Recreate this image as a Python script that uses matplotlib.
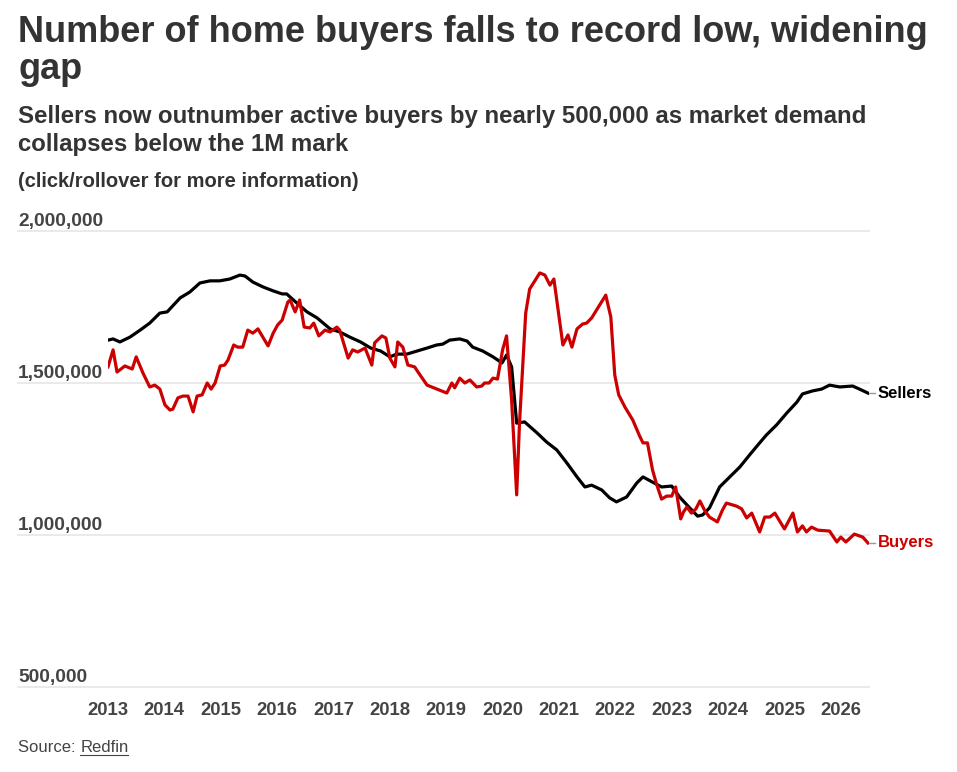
import matplotlib
matplotlib.use('Agg')
import matplotlib.pyplot as plt

# data (decimal year, count)
seller_years = [2013.00, 2013.09, 2013.21, 2013.39, 2013.57, 2013.74, 2013.92, 2014.05, 2014.28, 2014.45,
                2014.63, 2014.81, 2014.98, 2015.16, 2015.34, 2015.43, 2015.57, 2015.75, 2015.93, 2016.09,
                2016.17, 2016.35, 2016.53, 2016.71, 2016.94, 2017.11, 2017.29, 2017.48, 2017.66, 2017.84,
                2018.00, 2018.12, 2018.30, 2018.48, 2018.66, 2018.83, 2018.94, 2019.06, 2019.24, 2019.37,
                2019.47, 2019.65, 2019.83, 2019.99, 2020.07, 2020.16, 2020.25, 2020.39, 2020.61, 2020.78,
                2020.96, 2021.14, 2021.32, 2021.46, 2021.58, 2021.76, 2021.90, 2022.02, 2022.20, 2022.38,
                2022.49, 2022.66, 2022.82, 2023.00, 2023.14, 2023.32, 2023.46, 2023.55, 2023.67, 2023.85,
                2024.03, 2024.21, 2024.38, 2024.56, 2024.68, 2024.86, 2025.04, 2025.22, 2025.32, 2025.50,
                2025.66, 2025.80, 2025.98, 2026.21, 2026.33, 2026.48]
sellers = [1641000, 1645000, 1635000, 1651000, 1674000, 1697000, 1730000, 1734000, 1780000, 1799000,
           1829000, 1836000, 1836000, 1842000, 1855000, 1852000, 1832000, 1816000, 1803000, 1793000,
           1793000, 1763000, 1734000, 1714000, 1678000, 1668000, 1651000, 1635000, 1615000, 1605000,
           1586000, 1595000, 1595000, 1605000, 1615000, 1625000, 1628000, 1641000, 1645000, 1638000,
           1618000, 1605000, 1586000, 1566000, 1592000, 1553000, 1368000, 1372000, 1336000, 1306000,
           1280000, 1237000, 1191000, 1158000, 1164000, 1148000, 1122000, 1109000, 1125000, 1171000,
           1191000, 1174000, 1158000, 1161000, 1125000, 1089000, 1062000, 1066000, 1089000, 1158000,
           1191000, 1224000, 1263000, 1303000, 1329000, 1362000, 1401000, 1437000, 1464000, 1474000,
           1480000, 1493000, 1487000, 1490000, 1480000, 1467000]

buyer_years = [2013.00, 2013.09, 2013.16, 2013.30, 2013.43, 2013.50, 2013.62, 2013.74, 2013.83, 2013.92,
               2014.01, 2014.10, 2014.15, 2014.24, 2014.33, 2014.42, 2014.51, 2014.58, 2014.67, 2014.76,
               2014.83, 2014.90, 2014.99, 2015.07, 2015.13, 2015.23, 2015.30, 2015.39, 2015.48, 2015.57,
               2015.66, 2015.84, 2015.93, 2016.01, 2016.09, 2016.19, 2016.23, 2016.32, 2016.40, 2016.48,
               2016.58, 2016.65, 2016.74, 2016.85, 2016.94, 2017.06, 2017.11, 2017.26, 2017.34, 2017.43,
               2017.56, 2017.68, 2017.73, 2017.86, 2017.93, 2018.00, 2018.09, 2018.14, 2018.23, 2018.32,
               2018.44, 2018.50, 2018.66, 2018.74, 2018.83, 2019.01, 2019.10, 2019.15, 2019.24, 2019.33,
               2019.42, 2019.54, 2019.63, 2019.68, 2019.76, 2019.83, 2019.91, 2020.00, 2020.07, 2020.16,
               2020.25, 2020.30, 2020.41, 2020.48, 2020.66, 2020.75, 2020.84, 2020.91, 2021.07, 2021.16,
               2021.23, 2021.32, 2021.42, 2021.49, 2021.58, 2021.83, 2021.92, 2021.99, 2022.06, 2022.17,
               2022.31, 2022.43, 2022.49, 2022.57, 2022.66, 2022.73, 2022.82, 2022.91, 2023.00, 2023.07,
               2023.16, 2023.21, 2023.27, 2023.35, 2023.43, 2023.50, 2023.59, 2023.67, 2023.81, 2023.90,
               2023.97, 2024.15, 2024.24, 2024.33, 2024.42, 2024.56, 2024.65, 2024.74, 2024.83, 2025.00,
               2025.15, 2025.23, 2025.32, 2025.39, 2025.48, 2025.59, 2025.80, 2025.93, 2026.00, 2026.09,
               2026.24, 2026.39, 2026.48]
buyers = [1553000, 1609000, 1536000, 1556000, 1546000, 1586000, 1533000, 1487000, 1493000, 1480000,
          1428000, 1411000, 1414000, 1451000, 1457000, 1457000, 1405000, 1457000, 1461000, 1500000,
          1480000, 1500000, 1556000, 1559000, 1576000, 1625000, 1618000, 1618000, 1674000, 1664000,
          1678000, 1622000, 1664000, 1691000, 1707000, 1766000, 1773000, 1734000, 1773000, 1684000,
          1681000, 1697000, 1655000, 1674000, 1668000, 1684000, 1674000, 1582000, 1609000, 1602000,
          1615000, 1559000, 1632000, 1655000, 1648000, 1582000, 1553000, 1635000, 1618000, 1559000,
          1553000, 1536000, 1493000, 1487000, 1480000, 1467000, 1500000, 1484000, 1516000, 1500000,
          1510000, 1487000, 1490000, 1500000, 1500000, 1516000, 1513000, 1609000, 1655000, 1444000,
          1132000, 1368000, 1730000, 1809000, 1862000, 1855000, 1822000, 1842000, 1625000, 1658000,
          1618000, 1678000, 1694000, 1697000, 1714000, 1789000, 1717000, 1526000, 1461000, 1421000,
          1378000, 1326000, 1303000, 1303000, 1214000, 1168000, 1118000, 1128000, 1128000, 1158000,
          1053000, 1076000, 1092000, 1072000, 1086000, 1112000, 1079000, 1059000, 1043000, 1082000,
          1105000, 1095000, 1086000, 1056000, 1072000, 1010000, 1059000, 1059000, 1072000, 1020000,
          1072000, 1010000, 1030000, 1010000, 1026000, 1016000, 1013000, 977000, 993000, 977000,
          1003000, 993000, 974000]

year_ticks = list(range(2013, 2027))
y_ticks = [500000, 1000000, 1500000, 2000000]
y_tick_labels = ["500,000", "1,000,000", "1,500,000", "2,000,000"]

W, H = 957, 772
RED = "#cc0000"
TXT = "#333333"
GREY = "#444444"

plt.rcParams['font.family'] = ['Liberation Sans', 'DejaVu Sans']

fig = plt.figure(figsize=(W / 100, H / 100), dpi=100)
ax = fig.add_axes([108 / W, 1 - 687 / H, (869 - 108) / W, (687 - 231) / H])


def fy(py):
    # pixel row (from top) -> figure fraction
    return 1 - py / H


# header text
fig.text(18 / W, fy(42), "Number of home buyers falls to record low, widening",
         fontsize=26, fontweight='bold', color=TXT, va='baseline')
fig.text(18 / W, fy(79), "gap", fontsize=26, fontweight='bold', color=TXT, va='baseline')
fig.text(18 / W, fy(123), "Sellers now outnumber active buyers by nearly 500,000 as market demand",
         fontsize=17.3, fontweight='bold', color=TXT, va='baseline')
fig.text(18 / W, fy(151), "collapses below the 1M mark",
         fontsize=17.3, fontweight='bold', color=TXT, va='baseline')
fig.text(18 / W, fy(187), "(click/rollover for more information)",
         fontsize=14.5, fontweight='bold', color=TXT, va='baseline')

ax.plot(seller_years, sellers, color="black", lw=2.3, solid_joinstyle='round', zorder=3)
ax.plot(buyer_years, buyers, color=RED, lw=2.3, solid_joinstyle='round', zorder=4)

ax.set_xlim(2013, 2026.5)
ax.set_ylim(500000, 2000000)
for s in ax.spines.values():
    s.set_visible(False)
ax.set_yticks([])
ax.set_xticks(year_ticks)
ax.set_xticklabels([str(y) for y in year_ticks], fontsize=13.3, fontweight='bold', color=GREY)
ax.tick_params(axis='x', length=0, pad=11)

# gridlines run out under the y labels, labels sit on top of each line
left_ext = -(108 - 18) / (869 - 108)
for v, lab in zip(y_ticks, y_tick_labels):
    ax.plot([left_ext, 1], [v, v], transform=ax.get_yaxis_transform(), color="#e8e8e8",
            lw=1.3, clip_on=False, zorder=1)
    ax.text(left_ext, v + 18000, lab, transform=ax.get_yaxis_transform(), fontsize=13.8,
            fontweight='bold', color=GREY, va='baseline', ha='left')

# end labels with short connector ticks
ax.plot([seller_years[-1], 2026.6], [sellers[-1], sellers[-1]], color="#999999",
        lw=1, clip_on=False)
ax.plot([buyer_years[-1], 2026.6], [buyers[-1], buyers[-1]], color="#999999", lw=1, clip_on=False)
ax.text(2026.65, sellers[-1], "Sellers", fontsize=12, fontweight='bold', color="black",
        va='center', ha='left', clip_on=False)
ax.text(2026.65, buyers[-1], "Buyers", fontsize=12, fontweight='bold', color=RED,
        va='center', ha='left', clip_on=False)

# source line, "Redfin" underlined like a link
t = fig.text(18 / W, fy(752), "Source: ", fontsize=12, color=GREY, va='baseline')
fig.canvas.draw()
bb = t.get_window_extent()
src = fig.text(bb.x1 / W, fy(752), "Redfin", fontsize=12, color=GREY, va='baseline')
fig.canvas.draw()
sb = src.get_window_extent()
fig.add_artist(plt.Line2D([sb.x0 / W, sb.x1 / W], [fy(754.5), fy(754.5)], color=GREY, lw=0.8))

fig.savefig("out.png", dpi=100)
